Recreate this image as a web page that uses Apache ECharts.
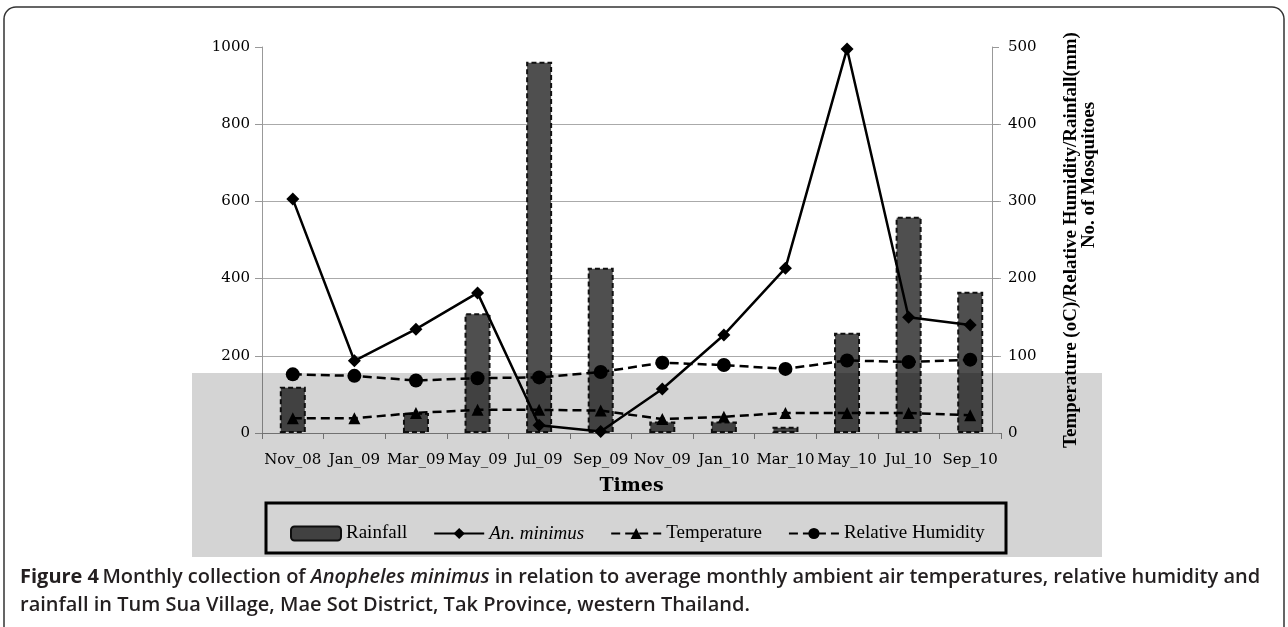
<!DOCTYPE html>
<html>
<head>
<meta charset="utf-8">
<script src="https://cdn.jsdelivr.net/npm/echarts@6/dist/echarts.min.js"></script>
<style>
  html, body { margin: 0; padding: 0; background: #fff; }
  #main { width: 1288px; height: 627px; }
</style>
</head>
<body>
<div id="main"></div>
<script>
// months on the x axis
const months = ['Nov_08', 'Jan_09', 'Mar_09', 'May_09', 'Jul_09', 'Sep_09',
                'Nov_09', 'Jan_10', 'Mar_10', 'May_10', 'Jul_10', 'Sep_10'];
// No. of mosquitoes (left axis)
const anMinimus = [606, 187, 269, 363, 20, 4, 114, 254, 427, 995, 300, 280];
// climate values (right axis)
const rainfall = [60, 0, 26, 155, 481, 214, 15, 15, 8, 130, 280, 183];
const temperature = [19, 19, 26, 30, 30, 29, 18, 21, 26, 26, 26, 23];
const humidity = [76, 74, 68, 71, 72, 79, 91, 88, 83, 94, 92, 95];
const leftTicks = [0, 1000, 200];
const rightTicks = [0, 500, 100];

const serif = '"DejaVu Serif", "Liberation Serif", serif';
const times = '"Liberation Serif", "Times New Roman", serif';
const capFont = '"Open Sans", sans-serif';

// a zero month gets no outline
const rainBars = rainfall.map(function (v) {
    return v === 0 ? { value: v, itemStyle: { borderWidth: 0 } } : v;
});

const chart = echarts.init(document.getElementById('main'));
chart.setOption({
    backgroundColor: '#fff',
    animation: false,
    grid: { left: 262, right: 287, top: 47, bottom: 194 },
    legend: {
        left: 285,
        top: 519,
        itemWidth: 50,
        itemHeight: 14,
        itemGap: 26,
        textStyle: { fontFamily: times, fontSize: 19, color: '#000' },
        data: [
            { name: 'Rainfall' },
            { name: 'An. minimus', textStyle: { fontStyle: 'italic' } },
            { name: 'Temperature' },
            { name: 'Relative Humidity' }
        ]
    },
    xAxis: {
        type: 'category',
        data: months,
        name: 'Times',
        nameLocation: 'middle',
        nameGap: 44,
        nameTextStyle: { fontFamily: serif, fontSize: 19, fontWeight: 'bold', color: '#000' },
        axisLine: { lineStyle: { color: '#888', width: 1 } },
        axisTick: { show: true, length: 6, lineStyle: { color: '#888' } },
        axisLabel: { margin: 20, fontFamily: serif, fontSize: 15, color: '#000', interval: 0 }
    },
    yAxis: [
        {
            type: 'value',
            min: leftTicks[0],
            max: leftTicks[1],
            interval: leftTicks[2],
            axisLine: { show: true, lineStyle: { color: '#999' } },
            axisTick: { show: true, length: 7, lineStyle: { color: '#999' } },
            axisLabel: { margin: 12, fontFamily: serif, fontSize: 15, color: '#000',
                formatter: function (v) { return String(v); } },
            splitLine: { show: true, showMinLine: false, showMaxLine: false, lineStyle: { color: '#aaa', width: 1.2 } }
        },
        {
            type: 'value',
            min: rightTicks[0],
            max: rightTicks[1],
            interval: rightTicks[2],
            offset: -9,
            axisLine: { show: true, lineStyle: { color: '#999' } },
            axisTick: { show: true, length: 7, lineStyle: { color: '#999' } },
            axisLabel: { margin: 16, fontFamily: serif, fontSize: 15, color: '#000' },
            splitLine: { show: false }
        }
    ],
    series: [
        {
            name: 'Rainfall',
            type: 'bar',
            yAxisIndex: 1,
            data: rainBars,
            barWidth: 26,
            itemStyle: { color: '#4f4f4f', borderColor: '#111', borderWidth: 2, borderType: [5, 3] }
        },
        {
            name: 'An. minimus',
            type: 'line',
            yAxisIndex: 0,
            data: anMinimus,
            symbol: 'diamond',
            symbolSize: 13,
            lineStyle: { color: '#000', width: 2.5 },
            itemStyle: { color: '#000' }
        },
        {
            name: 'Temperature',
            type: 'line',
            yAxisIndex: 1,
            data: temperature,
            symbol: 'triangle',
            symbolSize: 12,
            lineStyle: { color: '#000', width: 2.5, type: [9, 5] },
            itemStyle: { color: '#000' }
        },
        {
            name: 'Relative Humidity',
            type: 'line',
            yAxisIndex: 1,
            data: humidity,
            symbol: 'circle',
            symbolSize: 14,
            lineStyle: { color: '#000', width: 2.5, type: [9, 5] },
            itemStyle: { color: '#000' }
        }
    ],
    graphic: [
        // outer frame of the figure
        {
            type: 'rect', z: 0, silent: true,
            shape: { x: 4, y: 7, width: 1280, height: 640, r: 12 },
            style: { fill: 'none', stroke: '#333', lineWidth: 1.5 }
        },
        // grey scanned patch over the lower part
        {
            type: 'rect', z: 100, silent: true,
            shape: { x: 192, y: 373, width: 910, height: 184 },
            style: { fill: 'rgba(0,0,0,0.17)' }
        },
        // legend frame
        {
            type: 'rect', z: 50, silent: true,
            shape: { x: 266, y: 503, width: 740, height: 50 },
            style: { fill: 'none', stroke: '#000', lineWidth: 3 }
        },
        {
            type: 'text', z: 50, x: 1071, y: 240, rotation: Math.PI / 2, silent: true,
            style: {
                text: 'Temperature (oC)/Relative Humidity/Rainfall(mm)',
                align: 'center', verticalAlign: 'middle',
                font: 'bold 19px ' + times, fill: '#000'
            }
        },
        {
            type: 'text', z: 50, x: 1089, y: 175, rotation: Math.PI / 2, silent: true,
            style: {
                text: 'No. of Mosquitoes',
                align: 'center', verticalAlign: 'middle',
                font: 'bold 19px ' + times, fill: '#000'
            }
        },
        {
            type: 'text', z: 50, x: 20, y: 563, silent: true,
            style: {
                text: '{b|Figure 4} {n|Monthly collection of }{i|Anopheles minimus}{n| in relation to average monthly ambient air temperatures, relative humidity and}\n{n|rainfall in Tum Sua Village, Mae Sot District, Tak Province, western Thailand.}',
                lineHeight: 28,
                rich: {
                    b: { fontFamily: capFont, fontSize: 20, fontWeight: 'bold', fill: '#231f20', lineHeight: 28 },
                    n: { fontFamily: capFont, fontSize: 20, fontWeight: 600, fill: '#231f20', lineHeight: 28 },
                    i: { fontFamily: capFont, fontSize: 20, fontWeight: 600, fontStyle: 'italic', fill: '#231f20', lineHeight: 28 }
                }
            }
        }
    ]
});
</script>
</body>
</html>
